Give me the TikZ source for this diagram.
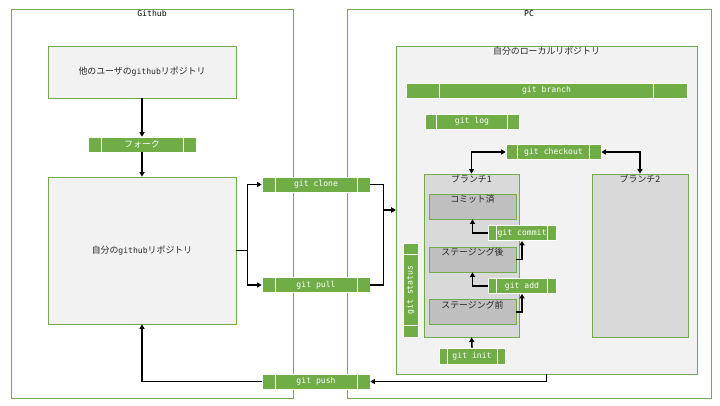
\documentclass[tikz,border=0pt]{standalone}
\usepackage{fontspec}
\usetikzlibrary{arrows.meta,calc}
\newfontfamily\jpf{Noto Sans CJK JP}
\newfontfamily\monof{DejaVu Sans Mono}
\newcommand\jp{\jpf\fontsize{8.9}{10}\selectfont}
\newcommand\mn{\monof\fontsize{8.1}{9}\selectfont}
\definecolor{gbar}{HTML}{70AD47}
\definecolor{gline}{HTML}{70AD47}
\definecolor{lightbg}{HTML}{F2F2F2}
\definecolor{midbg}{HTML}{D9D9D9}
\definecolor{darkbg}{HTML}{BFBFBF}
\definecolor{txt}{HTML}{262626}
\tikzset{
  container/.style={draw=gline, line width=0.8pt, inner sep=0pt},
  box/.style={draw=gline, line width=0.8pt, inner sep=0pt, text=txt, font=\jp},
  procbar/.style={fill=gbar, draw=white, line width=0.7pt, text=white, font=\mn, inner sep=0pt,
    path picture={
      \draw[white, line width=0.8pt]
        ($(path picture bounding box.north west)!0.12!(path picture bounding box.north east)$) --
        ($(path picture bounding box.south west)!0.12!(path picture bounding box.south east)$)
        ($(path picture bounding box.north west)!0.88!(path picture bounding box.north east)$) --
        ($(path picture bounding box.south west)!0.88!(path picture bounding box.south east)$);
    }},
  vprocbar/.style={fill=gbar, draw=white, line width=0.7pt, text=white, font=\mn, inner sep=0pt,
    path picture={
      \draw[white, line width=0.8pt]
        ($(path picture bounding box.north west)!0.12!(path picture bounding box.south west)$) --
        ($(path picture bounding box.north east)!0.12!(path picture bounding box.south east)$)
        ($(path picture bounding box.north west)!0.88!(path picture bounding box.south west)$) --
        ($(path picture bounding box.north east)!0.88!(path picture bounding box.south east)$);
    }},
  arr/.style={line width=1.6pt, -{Triangle[length=4.5pt,width=5pt]}},
  arrtwo/.style={line width=1.6pt, {Triangle[length=4.5pt,width=5pt]}-{Triangle[length=4.5pt,width=5pt]}},
  toplabel/.style={anchor=north, inner sep=1.5pt, font=\jp, text=txt}
}
\begin{document}
\begin{tikzpicture}[x=1pt,y=-1pt]
\useasboundingbox[fill=white] (0,0) rectangle (720,405);
% containers
\node[container, minimum width=282pt, minimum height=389pt,
  label={[toplabel, text=black, font=\mn]north:Github}] (github) at (152,203.5) {};
\node[container, minimum width=364pt, minimum height=389pt,
  label={[toplabel, text=black, font=\mn]north:PC}] (pc) at (529,203.5) {};
\node[container, fill=lightbg, minimum width=301pt, minimum height=328pt,
  label={[toplabel]north:自分のローカルリポジトリ}] (local) at (546.5,210) {};
% github side
\node[box, fill=lightbg, minimum width=188pt, minimum height=52pt] (other) at (142,72)
  {他のユーザの{\mn github}リポジトリ};
\node[procbar, minimum width=108pt, minimum height=15pt] (fork) at (142,144.5) {{\jp\color{white}フォーク}};
\node[box, fill=lightbg, minimum width=188pt, minimum height=147pt] (own) at (142,250.5)
  {自分の{\mn github}リポジトリ};
% transfer bars
\node[procbar, minimum width=108pt, minimum height=15pt] (clone) at (316,184.5) {git clone};
\node[procbar, minimum width=108pt, minimum height=15pt] (pull) at (316,285) {git pull};
\node[procbar, minimum width=108pt, minimum height=15pt] (push) at (316,381.5) {git push};
% local repo contents
\node[procbar, minimum width=281pt, minimum height=15pt] (branch) at (546.5,90.5) {git branch};
\node[procbar, minimum width=94pt, minimum height=15pt] (log) at (472,121.5) {git log};
\node[procbar, minimum width=95pt, minimum height=15pt] (checkout) at (553.5,152) {git checkout};
\node[box, fill=midbg, minimum width=95pt, minimum height=163pt,
  label={[toplabel]north:ブランチ1}] (branch1) at (471.5,255.5) {};
\node[box, fill=midbg, minimum width=96pt, minimum height=163pt,
  label={[toplabel]north:ブランチ2}] (branch2) at (640,255.5) {};
\node[box, fill=darkbg, minimum width=87pt, minimum height=25pt,
  label={[toplabel]north:コミット済}] (committed) at (472.5,206.5) {};
\node[box, fill=darkbg, minimum width=87pt, minimum height=25pt,
  label={[toplabel]north:ステージング後}] (staged) at (472.5,259.5) {};
\node[box, fill=darkbg, minimum width=87pt, minimum height=25pt,
  label={[toplabel]north:ステージング前}] (unstaged) at (472.5,312) {};
\node[procbar, minimum width=68pt, minimum height=15pt] (commitbar) at (522,233) {git commit};
\node[procbar, minimum width=68pt, minimum height=15pt] (add) at (522,286) {git add};
\node[vprocbar, minimum width=15pt, minimum height=94pt] (status) at (410.5,290) {\rotatebox{90}{git status}};
\node[procbar, minimum width=66pt, minimum height=16pt] (init) at (472,356) {git init};
% connectors
\draw[arr] (other.south) -- (fork.north);
\draw[arr] (fork.south) -- (own.north);
\draw[arr] (own.east) -- ++(11,0) |- (clone.west);
\draw[arr] (own.east) -- ++(11,0) |- (pull.west);
\draw[arr] (clone.east) -- ++(13,0) |- (local.west);
\draw[arr] (pull.east) -- ++(13,0) |- (local.west);
\draw[arr] (local.south) |- (push.east);
\draw[arr] (push.west) -| (own.south);
\draw[arrtwo] (branch1.north) |- (checkout.west);
\draw[arrtwo] (branch2.north) |- (checkout.east);
\draw[arr] (init.north) -- (branch1.south);
\draw[arr] (unstaged.east) -| (add.south);
\draw[arr] (add.west) -| (staged.south);
\draw[arr] (staged.east) -| (commitbar.south);
\draw[arr] (commitbar.west) -| (committed.south);
\end{tikzpicture}
\end{document}
